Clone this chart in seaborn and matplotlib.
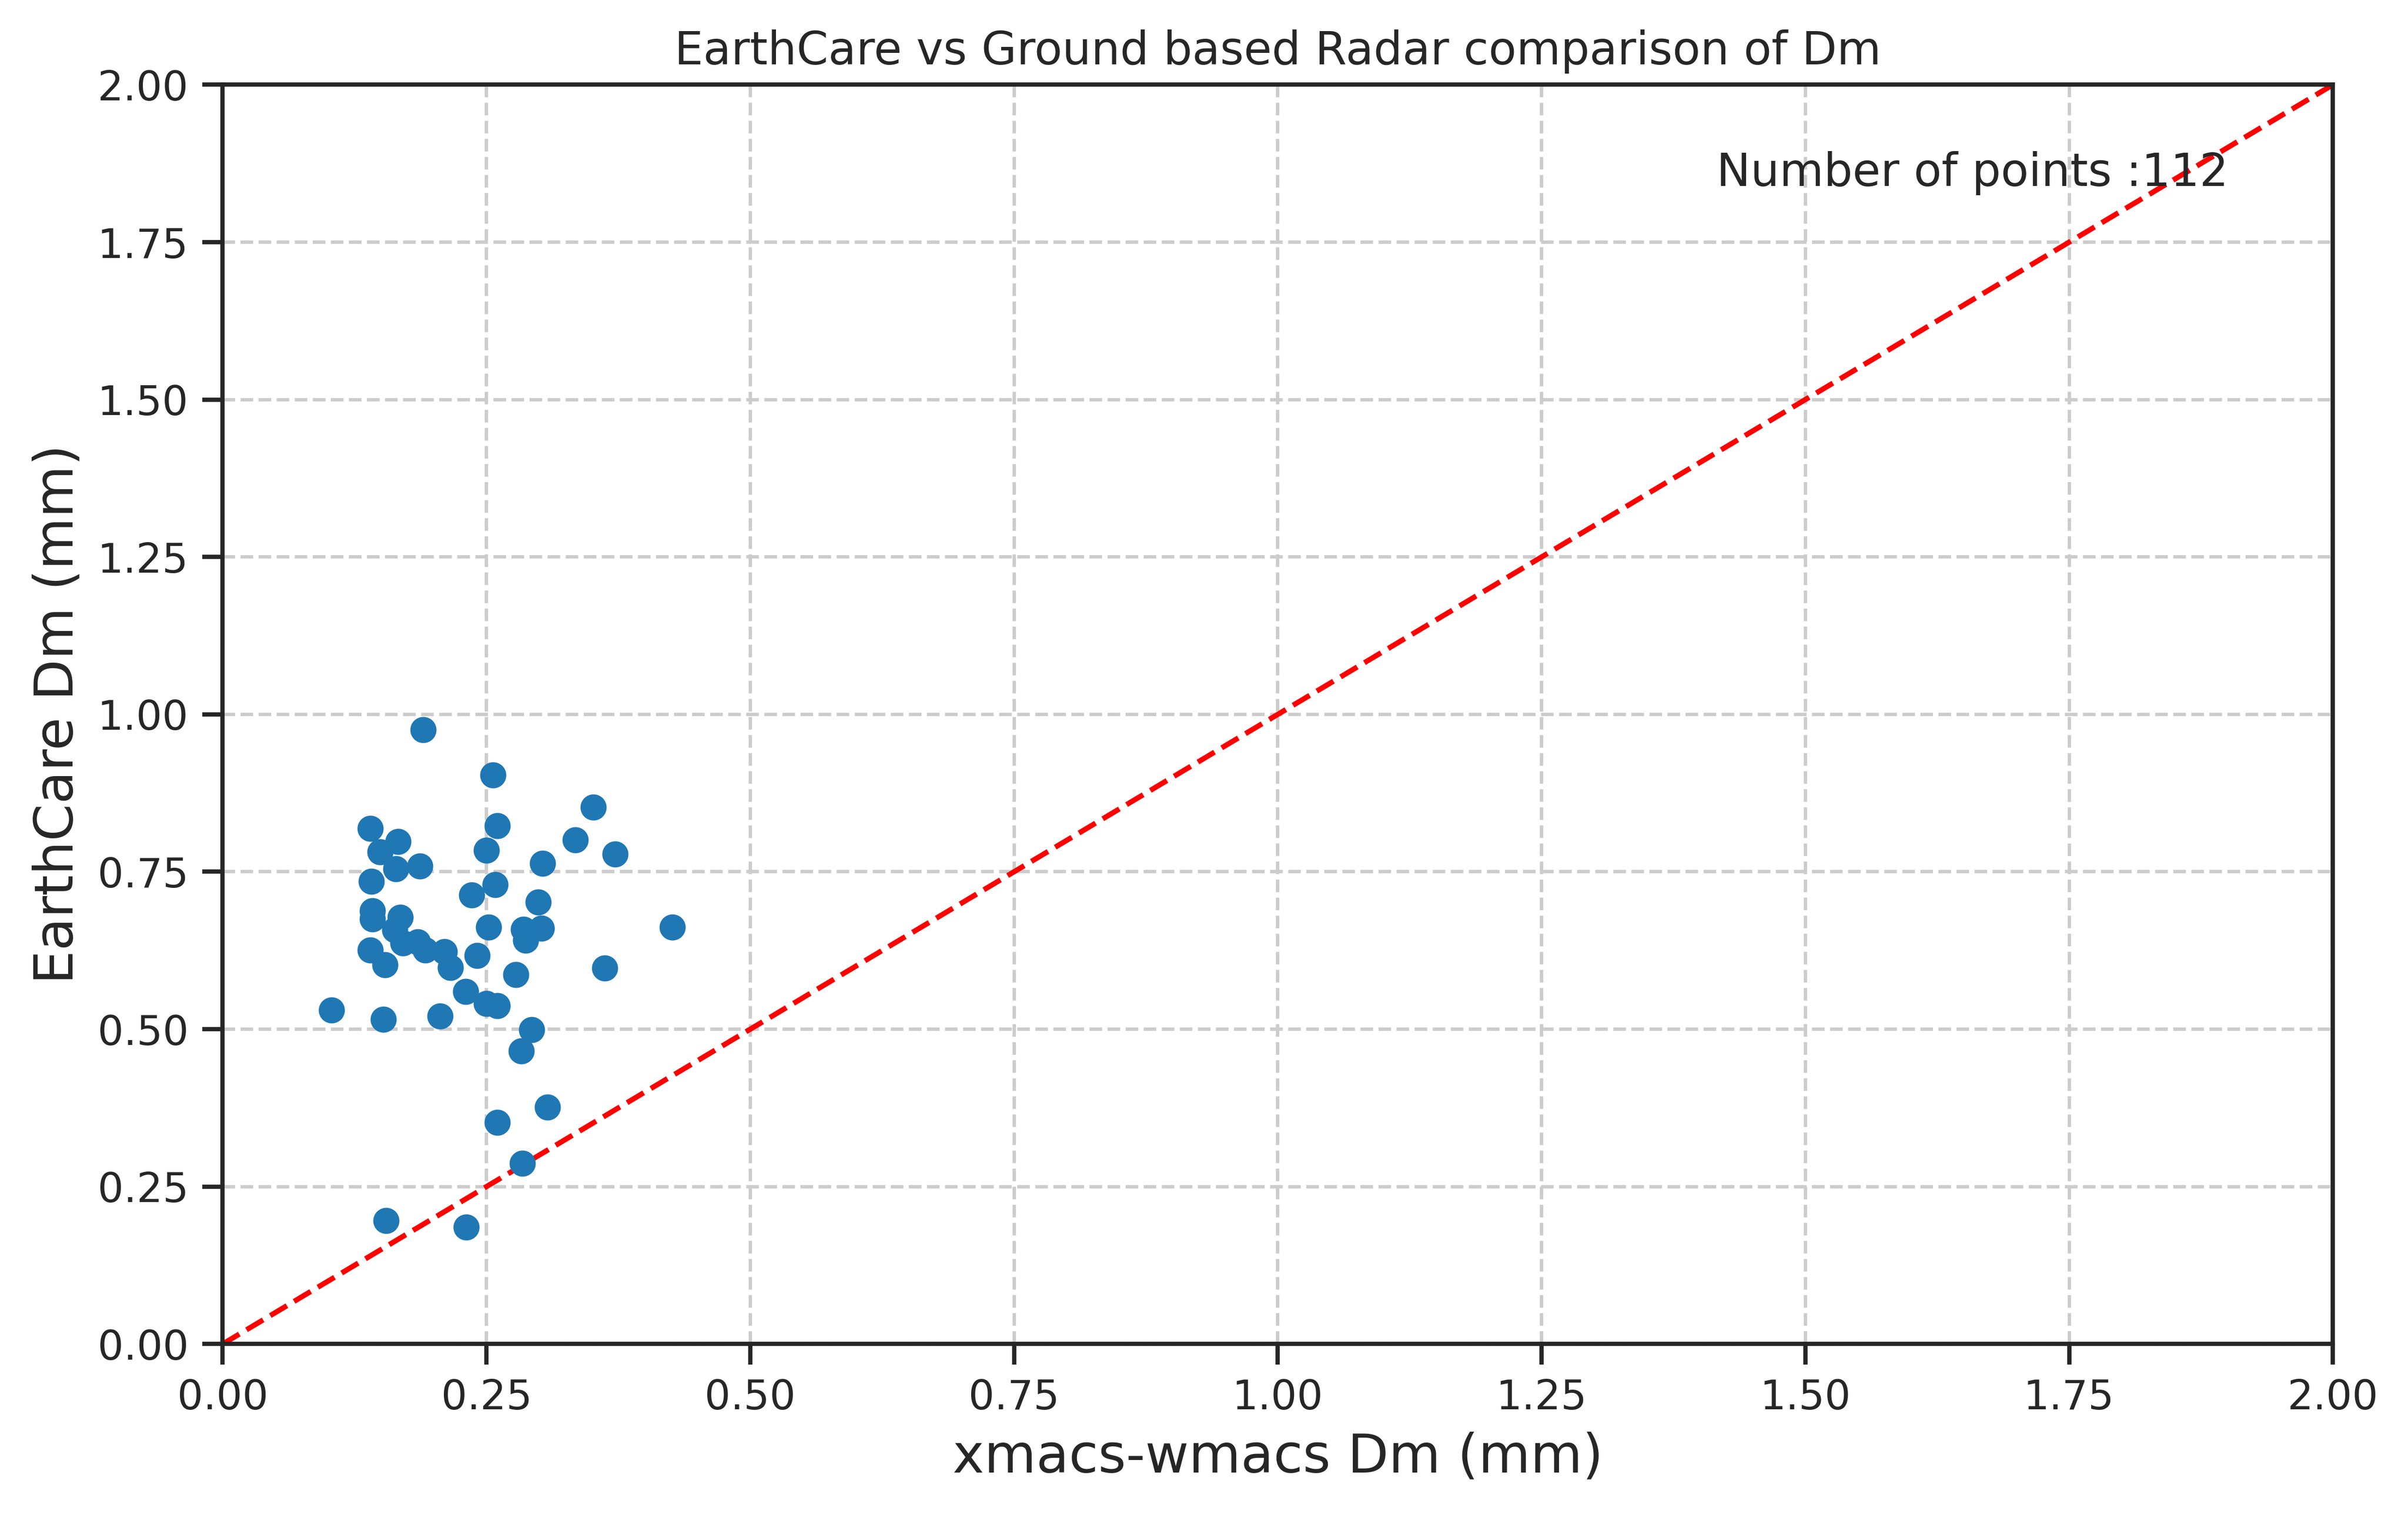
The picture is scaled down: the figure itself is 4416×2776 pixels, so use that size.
import numpy as np
import pandas as pd
import matplotlib
matplotlib.use("Agg")
import matplotlib.pyplot as plt
import seaborn as sns

x_dm = [0.190, 0.256, 0.351, 0.140, 0.260, 0.166, 0.334, 0.149, 0.250, 0.372,
        0.164, 0.187, 0.303, 0.141, 0.258, 0.236, 0.299, 0.142, 0.142, 0.168,
        0.163, 0.252, 0.285, 0.302, 0.287, 0.426, 0.140, 0.171, 0.185, 0.192,
        0.210, 0.241, 0.216, 0.154, 0.362, 0.278, 0.230, 0.250, 0.260, 0.103,
        0.152, 0.206, 0.293, 0.283, 0.308, 0.260, 0.284, 0.155, 0.231]
y_dm = [0.976, 0.904, 0.853, 0.819, 0.823, 0.798, 0.801, 0.782, 0.784, 0.778,
        0.755, 0.759, 0.763, 0.735, 0.730, 0.713, 0.702, 0.688, 0.675, 0.678,
        0.658, 0.662, 0.659, 0.660, 0.641, 0.662, 0.626, 0.637, 0.639, 0.626,
        0.623, 0.617, 0.598, 0.602, 0.597, 0.587, 0.560, 0.541, 0.537, 0.530,
        0.516, 0.521, 0.499, 0.465, 0.376, 0.352, 0.287, 0.196, 0.186]
n_points = 112
ticks = [0.0, 0.25, 0.5, 0.75, 1.0, 1.25, 1.5, 1.75, 2.0]

df = pd.DataFrame({"x": x_dm, "y": y_dm})

sns.set_theme(style="ticks", context="talk")
plt.rcParams['font.family'] = ['DejaVu Sans']

fig = plt.figure(figsize=(4416/300, 2776/300), dpi=300)
ax = fig.add_axes([0.0925, 0.1123, 0.8763, 0.8317])

ax.grid(True, linestyle='--', color='#cccccc', linewidth=1.5)
ax.set_axisbelow(True)
sns.scatterplot(data=df, x="x", y="y", ax=ax, s=100, color='#1f77b4',
                edgecolor='#1f77b4', linewidth=1.5, zorder=3)
ax.plot([0, 2], [0, 2], color='red', linestyle='--', linewidth=2.3, zorder=2)

ax.set_xlim(0, 2)
ax.set_ylim(0, 2)
ax.set_xticks(ticks)
ax.set_yticks(ticks)
ax.tick_params(labelsize=18, length=9, pad=6)

ax.set_xlabel("xmacs-wmacs Dm (mm)", fontsize=23.5, labelpad=6)
ax.set_ylabel("EarthCare Dm (mm)", fontsize=23.5, labelpad=6)
ax.set_title("EarthCare vs Ground based Radar comparison of Dm", fontsize=20, pad=9)
ax.text(0.708, 0.93, f"Number of points :{n_points}", transform=ax.transAxes,
        fontsize=20, va='center')

fig.savefig("out.png", dpi=300)
